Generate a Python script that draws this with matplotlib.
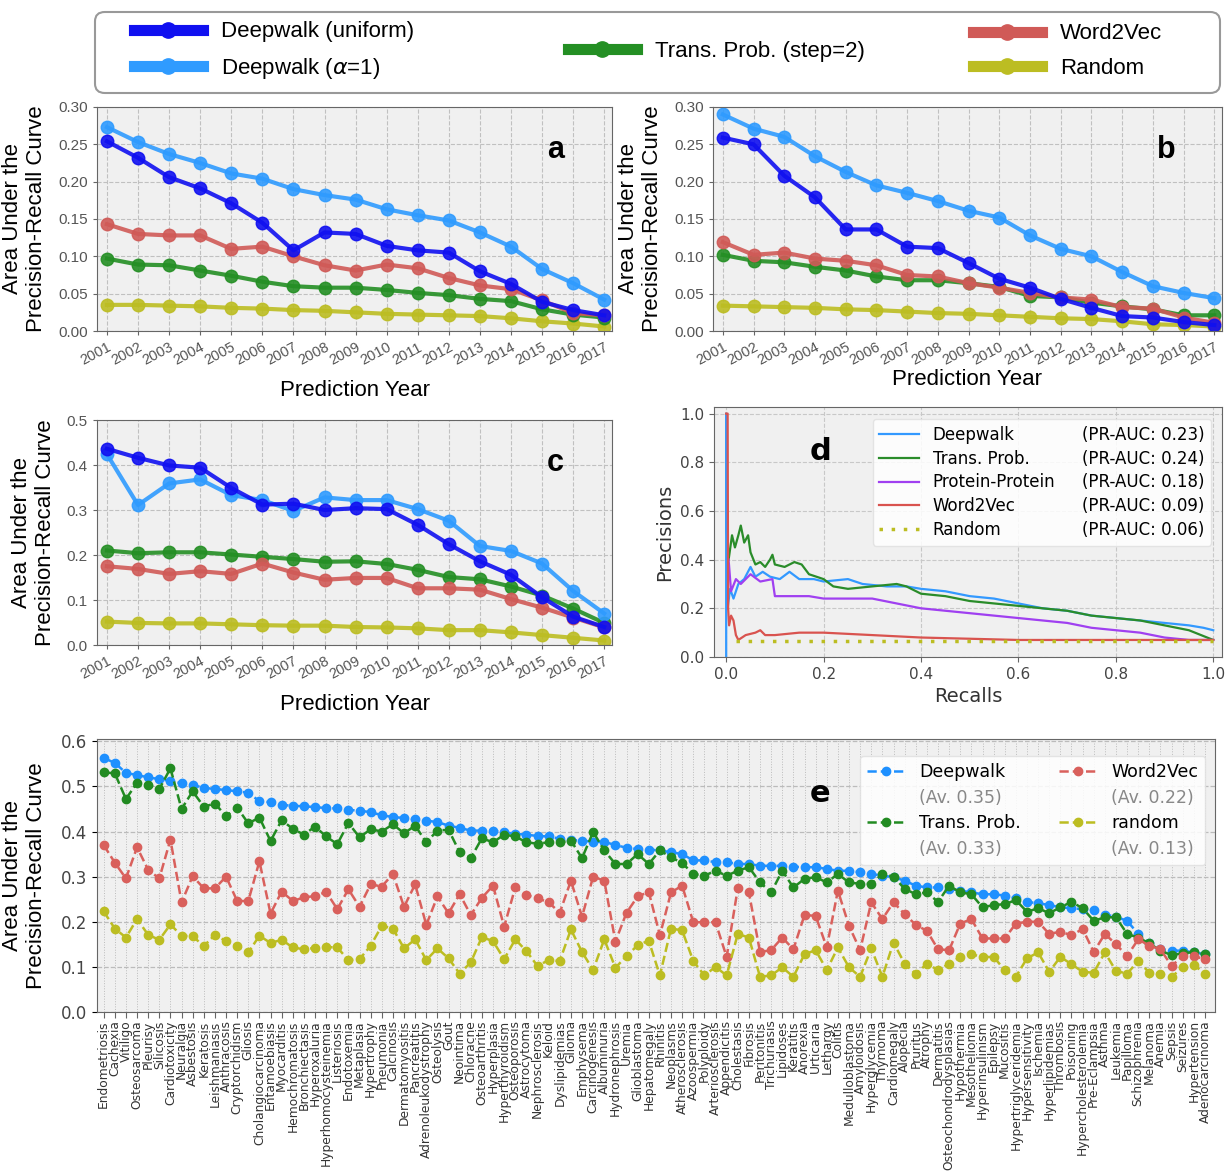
import numpy as np
import matplotlib
matplotlib.use('Agg')
import matplotlib.pyplot as plt
from matplotlib.lines import Line2D
from matplotlib.patches import FancyBboxPatch

plt.rcParams['font.family'] = ['DejaVu Sans']
ARIAL = 'Liberation Sans'

# ---------------- data ----------------
years = list(range(2001, 2018))

# panel a
a_dw_uniform = [0.254, 0.232, 0.206, 0.191, 0.171, 0.145, 0.108, 0.132, 0.130, 0.114, 0.108, 0.105, 0.080, 0.063, 0.039, 0.028, 0.021]
a_dw_alpha1 = [0.273, 0.253, 0.237, 0.225, 0.211, 0.204, 0.190, 0.182, 0.176, 0.163, 0.155, 0.148, 0.132, 0.113, 0.083, 0.064, 0.042]
a_trans = [0.097, 0.089, 0.088, 0.081, 0.074, 0.066, 0.060, 0.058, 0.058, 0.055, 0.051, 0.048, 0.043, 0.040, 0.029, 0.022, 0.018]
a_w2v = [0.143, 0.130, 0.128, 0.128, 0.110, 0.113, 0.100, 0.088, 0.081, 0.089, 0.084, 0.071, 0.061, 0.056, 0.041, 0.024, 0.021]
a_random = [0.035, 0.035, 0.034, 0.033, 0.031, 0.030, 0.028, 0.027, 0.025, 0.023, 0.022, 0.021, 0.020, 0.017, 0.013, 0.010, 0.006]

# panel b
b_dw_uniform = [0.259, 0.250, 0.208, 0.179, 0.136, 0.136, 0.113, 0.111, 0.091, 0.070, 0.058, 0.043, 0.031, 0.020, 0.018, 0.012, 0.008]
b_dw_alpha1 = [0.290, 0.271, 0.260, 0.234, 0.213, 0.195, 0.185, 0.174, 0.161, 0.152, 0.128, 0.110, 0.100, 0.079, 0.060, 0.051, 0.044]
b_trans = [0.102, 0.094, 0.092, 0.086, 0.081, 0.073, 0.068, 0.068, 0.064, 0.059, 0.047, 0.045, 0.038, 0.033, 0.029, 0.021, 0.021]
b_w2v = [0.119, 0.102, 0.105, 0.097, 0.094, 0.088, 0.075, 0.073, 0.064, 0.058, 0.051, 0.045, 0.042, 0.032, 0.030, 0.018, 0.011]
b_random = [0.034, 0.033, 0.032, 0.031, 0.029, 0.028, 0.026, 0.024, 0.023, 0.021, 0.019, 0.017, 0.016, 0.013, 0.009, 0.008, 0.006]

# panel c
c_dw_uniform = [0.436, 0.416, 0.399, 0.394, 0.349, 0.312, 0.314, 0.300, 0.304, 0.302, 0.267, 0.224, 0.186, 0.156, 0.106, 0.063, 0.040]
c_dw_alpha1 = [0.424, 0.311, 0.359, 0.368, 0.333, 0.322, 0.298, 0.328, 0.322, 0.322, 0.302, 0.276, 0.220, 0.209, 0.181, 0.120, 0.070]
c_trans = [0.210, 0.204, 0.206, 0.206, 0.201, 0.196, 0.191, 0.185, 0.186, 0.180, 0.167, 0.151, 0.146, 0.130, 0.110, 0.081, 0.049]
c_w2v = [0.175, 0.169, 0.158, 0.164, 0.158, 0.181, 0.161, 0.145, 0.149, 0.149, 0.126, 0.126, 0.123, 0.102, 0.083, 0.061, 0.039]
c_random = [0.052, 0.049, 0.048, 0.048, 0.046, 0.044, 0.043, 0.043, 0.040, 0.039, 0.037, 0.033, 0.033, 0.028, 0.022, 0.016, 0.010]

# panel d (precision-recall curves)
d_dw_rec = [0.0, 0.0, 0.003, 0.008, 0.015, 0.025, 0.037, 0.05, 0.06, 0.075, 0.09, 0.11, 0.13, 0.15, 0.18, 0.2, 0.25, 0.28,
            0.33, 0.37, 0.4, 0.45, 0.5, 0.55, 0.6, 0.65, 0.7, 0.75, 0.8, 0.85, 0.9, 0.95, 0.98, 1.0]
d_dw_prec = [0.0, 1.0, 0.2, 0.28, 0.24, 0.30, 0.32, 0.37, 0.33, 0.35, 0.33, 0.32, 0.35, 0.32, 0.32, 0.31, 0.32, 0.30,
             0.29, 0.29, 0.28, 0.27, 0.25, 0.24, 0.22, 0.20, 0.19, 0.17, 0.16, 0.15, 0.14, 0.13, 0.12, 0.11]
d_tp_rec = [0.005, 0.012, 0.018, 0.025, 0.03, 0.037, 0.045, 0.05, 0.06, 0.07, 0.08, 0.09, 0.095, 0.1, 0.12, 0.14, 0.155,
            0.17, 0.2, 0.22, 0.25, 0.3, 0.35, 0.37, 0.4, 0.45, 0.5, 0.55, 0.6, 0.65, 0.7, 0.75, 0.8, 0.85, 0.9, 0.95, 1.0]
d_tp_prec = [0.40, 0.50, 0.45, 0.50, 0.54, 0.47, 0.50, 0.43, 0.38, 0.39, 0.37, 0.40, 0.42, 0.38, 0.37, 0.39, 0.38,
             0.34, 0.32, 0.29, 0.28, 0.29, 0.30, 0.29, 0.26, 0.25, 0.23, 0.22, 0.21, 0.20, 0.19, 0.17, 0.16, 0.15, 0.13, 0.11, 0.07]
d_pp_rec = [0.005, 0.01, 0.02, 0.03, 0.05, 0.07, 0.095, 0.1, 0.13, 0.17, 0.2, 0.25, 0.3, 0.35, 0.4, 0.45, 0.5, 0.55,
            0.6, 0.65, 0.7, 0.75, 0.8, 0.85, 0.9, 0.95, 1.0]
d_pp_prec = [0.40, 0.27, 0.32, 0.30, 0.34, 0.31, 0.32, 0.25, 0.25, 0.25, 0.24, 0.24, 0.24, 0.22, 0.20, 0.19, 0.18, 0.17,
             0.16, 0.15, 0.14, 0.12, 0.11, 0.10, 0.08, 0.07, 0.07]
d_w2v_rec = [0.0, 0.003, 0.004, 0.006, 0.01, 0.015, 0.02, 0.025, 0.04, 0.06, 0.07, 0.08, 0.1, 0.15, 0.2, 0.3, 0.4, 0.5, 0.6, 0.8, 1.0]
d_w2v_prec = [1.0, 1.0, 0.20, 0.13, 0.17, 0.15, 0.09, 0.07, 0.09, 0.10, 0.11, 0.09, 0.09, 0.10, 0.10, 0.09, 0.08, 0.075, 0.07, 0.07, 0.07]
d_rand_rec = [0.02, 1.0]
d_rand_prec = [0.065, 0.065]
d_names = ['Deepwalk', 'Trans. Prob.', 'Protein-Protein', 'Word2Vec', 'Random']
d_auc = ['(PR-AUC: 0.23)', '(PR-AUC: 0.24)', '(PR-AUC: 0.18)', '(PR-AUC: 0.09)', '(PR-AUC: 0.06)']

# panel e
diseases = ['Endometriosis', 'Cachexia', 'Vitiligo', 'Osteosarcoma', 'Pleurisy', 'Silicosis', 'Cardiotoxicity',
            'Neuralgia', 'Asbestosis', 'Keratosis', 'Leishmaniasis', 'Anthracosis', 'Cryptorchidism', 'Gliosis',
            'Cholangiocarcinoma', 'Entamoebiasis', 'Myocarditis', 'Hemochromatosis', 'Bronchiectasis',
            'Hyperoxaluria', 'Hyperhomocysteinemia', 'Listeriosis', 'Endotoxemia', 'Metaplasia', 'Hypertrophy',
            'Pneumonia', 'Calcinosis', 'Dermatomyositis', 'Pancreatitis', 'Adrenoleukodystrophy', 'Osteolysis',
            'Gout', 'Neointima', 'Chloracne', 'Osteoarthritis', 'Hyperplasia', 'Hyperthyroidism', 'Osteoporosis',
            'Astrocytoma', 'Nephrosclerosis', 'Keloid', 'Dyslipidemias', 'Glioma', 'Emphysema', 'Carcinogenesis',
            'Albuminuria', 'Hydronephrosis', 'Uremia', 'Glioblastoma', 'Hepatomegaly', 'Rhinitis', 'Neoplasms',
            'Atherosclerosis', 'Azoospermia', 'Polyploidy', 'Arteriosclerosis', 'Appendicitis', 'Cholestasis',
            'Fibrosis', 'Peritonitis', 'Trichuriasis', 'Lipidoses', 'Keratitis', 'Anorexia', 'Urticaria',
            'Lethargy', 'Colitis', 'Medulloblastoma', 'Amyloidosis', 'Hyperglycemia', 'Thymoma', 'Cardiomegaly',
            'Alopecia', 'Pruritus', 'Atrophy', 'Dermatitis', 'Osteochondrodysplasias', 'Hypothermia',
            'Mesothelioma', 'Hyperinsulinism', 'Epilepsy', 'Mucositis', 'Hypertriglyceridemia', 'Hypersensitivity',
            'Ischemia', 'Hyperlipidemias', 'Thrombosis', 'Poisoning', 'Hypercholesterolemia', 'Pre-Eclampsia',
            'Asthma', 'Leukemia', 'Papilloma', 'Schizophrenia', 'Melanoma', 'Anemia', 'Sepsis', 'Seizures',
            'Hypertension', 'Adenocarcinoma']

e_deepwalk = [0.563, 0.552, 0.530, 0.525, 0.520, 0.516, 0.512, 0.507, 0.503, 0.497, 0.494, 0.492, 0.489, 0.486,
              0.467, 0.465, 0.459, 0.457, 0.456, 0.454, 0.452, 0.451, 0.448, 0.446, 0.443, 0.436, 0.432, 0.430,
              0.427, 0.424, 0.421, 0.413, 0.408, 0.402, 0.402, 0.402, 0.398, 0.395, 0.393, 0.390, 0.389, 0.384,
              0.381, 0.380, 0.377, 0.377, 0.370, 0.364, 0.361, 0.360, 0.358, 0.354, 0.350, 0.336, 0.336, 0.332,
              0.332, 0.328, 0.328, 0.324, 0.324, 0.324, 0.322, 0.321, 0.321, 0.317, 0.313, 0.313, 0.310, 0.306,
              0.302, 0.299, 0.291, 0.280, 0.276, 0.276, 0.273, 0.269, 0.265, 0.261, 0.261, 0.258, 0.252, 0.244,
              0.241, 0.237, 0.232, 0.230, 0.228, 0.226, 0.216, 0.211, 0.202, 0.173, 0.152, 0.139, 0.136, 0.136,
              0.132, 0.128]
e_trans = [0.531, 0.529, 0.472, 0.508, 0.503, 0.494, 0.540, 0.450, 0.489, 0.455, 0.462, 0.434, 0.453, 0.418,
           0.431, 0.379, 0.425, 0.406, 0.393, 0.411, 0.389, 0.372, 0.419, 0.387, 0.405, 0.400, 0.416, 0.396,
           0.413, 0.376, 0.402, 0.404, 0.354, 0.341, 0.385, 0.376, 0.393, 0.389, 0.376, 0.373, 0.376, 0.376,
           0.380, 0.341, 0.399, 0.358, 0.328, 0.328, 0.350, 0.328, 0.358, 0.343, 0.330, 0.306, 0.302, 0.313,
           0.302, 0.313, 0.321, 0.287, 0.265, 0.313, 0.276, 0.295, 0.299, 0.287, 0.306, 0.287, 0.284, 0.284,
           0.306, 0.300, 0.273, 0.261, 0.265, 0.244, 0.280, 0.265, 0.261, 0.232, 0.237, 0.239, 0.248, 0.222,
           0.230, 0.219, 0.232, 0.244, 0.230, 0.202, 0.210, 0.210, 0.173, 0.165, 0.152, 0.136, 0.126, 0.130,
           0.133, 0.128]
e_w2v = [0.370, 0.331, 0.296, 0.365, 0.315, 0.296, 0.382, 0.243, 0.301, 0.274, 0.274, 0.300, 0.246, 0.246,
         0.334, 0.218, 0.267, 0.246, 0.254, 0.257, 0.266, 0.228, 0.272, 0.233, 0.283, 0.278, 0.306, 0.233,
         0.283, 0.193, 0.256, 0.219, 0.261, 0.215, 0.253, 0.280, 0.189, 0.276, 0.259, 0.252, 0.243, 0.220,
         0.291, 0.211, 0.300, 0.291, 0.156, 0.220, 0.256, 0.266, 0.170, 0.265, 0.280, 0.199, 0.199, 0.199,
         0.122, 0.274, 0.265, 0.133, 0.137, 0.165, 0.139, 0.215, 0.213, 0.143, 0.269, 0.191, 0.137, 0.243,
         0.206, 0.243, 0.217, 0.193, 0.180, 0.139, 0.137, 0.196, 0.206, 0.163, 0.163, 0.163, 0.196, 0.200,
         0.200, 0.173, 0.178, 0.170, 0.184, 0.133, 0.173, 0.150, 0.124, 0.161, 0.147, 0.139, 0.102, 0.124,
         0.124, 0.117]
e_random = [0.223, 0.185, 0.165, 0.206, 0.171, 0.160, 0.194, 0.169, 0.168, 0.146, 0.171, 0.157, 0.146, 0.132,
            0.169, 0.153, 0.160, 0.143, 0.139, 0.142, 0.144, 0.143, 0.115, 0.117, 0.147, 0.191, 0.185, 0.141,
            0.161, 0.115, 0.141, 0.119, 0.085, 0.110, 0.166, 0.157, 0.117, 0.161, 0.135, 0.102, 0.115, 0.113,
            0.183, 0.133, 0.093, 0.161, 0.098, 0.124, 0.148, 0.158, 0.081, 0.185, 0.181, 0.113, 0.081, 0.100,
            0.081, 0.173, 0.165, 0.078, 0.081, 0.099, 0.078, 0.128, 0.137, 0.093, 0.143, 0.099, 0.078, 0.141,
            0.078, 0.154, 0.107, 0.084, 0.107, 0.093, 0.107, 0.122, 0.128, 0.122, 0.122, 0.093, 0.078, 0.119,
            0.132, 0.089, 0.122, 0.106, 0.089, 0.087, 0.132, 0.091, 0.085, 0.113, 0.087, 0.084, 0.078, 0.099,
            0.104, 0.085]
e_labels = ['Deepwalk', '(Av. 0.35)', 'Trans. Prob.', '(Av. 0.33)', 'Word2Vec', '(Av. 0.22)', 'random', '(Av. 0.13)']

# ---------------- style ----------------
C_DWU = '#1010f0'
C_DW1 = '#2f9bff'
C_TP = '#248f24'
C_W2V = '#d05a57'
C_RND = '#bcbd22'
BG = '#f0f0f0'

W, H = 1225, 1171
fig = plt.figure(figsize=(W / 100, H / 100), dpi=100)


def rect(l, t, r, b):
    return [l / W, 1 - b / H, (r - l) / W, (b - t) / H]


def year_panel(ax, data, ymax, yticks, fmt, letter, xlabelpad):
    ax.set_facecolor(BG)
    for vals, col in data:
        ax.plot(years, vals, '-o', color=col, lw=3, ms=9, alpha=0.9)
    ax.set_xlim(2000.68, 2017.25)
    ax.set_ylim(0, ymax)
    ax.set_xticks(years)
    ax.set_xticklabels(years, rotation=28, ha='right', rotation_mode='anchor',
                       fontsize=10.5, color='#555', family=ARIAL)
    ax.set_yticks(yticks)
    ax.set_yticklabels([fmt % v for v in yticks], fontsize=11, color='#555', family=ARIAL)
    ax.grid(True, ls='--', color='#c0c0c0', lw=0.8)
    for s in ax.spines.values():
        s.set_color('#666')
    ax.tick_params(length=3, color='#666')
    ax.set_ylabel('Area Under the\nPrecision-Recall Curve', fontsize=16, family=ARIAL, labelpad=8)
    ax.set_xlabel('Prediction Year', fontsize=16, family=ARIAL, labelpad=xlabelpad)
    ax.text(0.89, 0.81, letter, transform=ax.transAxes, fontsize=22, fontweight='bold',
            family=ARIAL, ha='center', va='center')


ax_a = fig.add_axes(rect(97, 107, 612, 331))
year_panel(ax_a, [(a_random, C_RND), (a_trans, C_TP), (a_w2v, C_W2V), (a_dw_alpha1, C_DW1), (a_dw_uniform, C_DWU)],
           0.30, np.arange(0, 0.31, 0.05), '%.2f', 'a', 9)

ax_b = fig.add_axes(rect(713, 107, 1222, 331))
year_panel(ax_b, [(b_random, C_RND), (b_trans, C_TP), (b_w2v, C_W2V), (b_dw_alpha1, C_DW1), (b_dw_uniform, C_DWU)],
           0.30, np.arange(0, 0.31, 0.05), '%.2f', 'b', 1)

ax_c = fig.add_axes(rect(97, 420, 612, 645))
year_panel(ax_c, [(c_random, C_RND), (c_trans, C_TP), (c_w2v, C_W2V), (c_dw_alpha1, C_DW1), (c_dw_uniform, C_DWU)],
           0.5, np.arange(0, 0.51, 0.1), '%.1f', 'c', 9)

# panel d
ax_d = fig.add_axes(rect(714, 407, 1222, 657))
ax_d.set_facecolor(BG)
ld = []
ld.append(ax_d.plot(d_dw_rec, d_dw_prec, color='#3399ff', lw=1.6)[0])
ld.append(ax_d.plot(d_tp_rec, d_tp_prec, color='#2a8c2a', lw=1.6)[0])
ld.append(ax_d.plot(d_pp_rec, d_pp_prec, color='#a040f0', lw=1.6)[0])
ld.append(ax_d.plot(d_w2v_rec, d_w2v_prec, color='#d9534f', lw=1.6)[0])
ld.append(ax_d.plot(d_rand_rec, d_rand_prec, color=C_RND, lw=2.5, ls=(0, (1, 2.5)))[0])
ax_d.set_xlim(-0.025, 1.018)
ax_d.set_ylim(0, 1.027)
ax_d.set_xticks(np.arange(0, 1.01, 0.2))
ax_d.set_yticks(np.arange(0, 1.01, 0.2))
ax_d.tick_params(labelsize=11, labelcolor='#444', color='#666')
ax_d.grid(True, ls='--', color='#c8c8c8', lw=0.8)
for s in ax_d.spines.values():
    s.set_color('#666')
ax_d.set_xlabel('Recalls', fontsize=14, color='#333')
ax_d.set_ylabel('Precisions', fontsize=14, color='#333')
ax_d.text(0.21, 0.82, 'd', transform=ax_d.transAxes, fontsize=22, fontweight='bold', ha='center', va='center')
blank = Line2D([], [], alpha=0)
leg_d = ax_d.legend(ld + [blank] * 5, d_names + d_auc, ncol=2, loc='upper right',
                    bbox_to_anchor=(0.995, 0.985), fontsize=12, handlelength=2.4,
                    columnspacing=-1.6, labelspacing=0.35, framealpha=0.85, edgecolor='#e0e0e0')

# panel e
ax_e = fig.add_axes(rect(97, 739, 1215, 1012))
ax_e.set_facecolor(BG)
xe = np.arange(len(diseases))
le = []
le.append(ax_e.plot(xe, e_deepwalk, '--o', color='#1e90ff', lw=1.8, ms=6)[0])
le.append(ax_e.plot(xe, e_trans, '--o', color='#228b22', lw=1.8, ms=6)[0])
le.append(ax_e.plot(xe, e_w2v, '--o', color='#d9605c', lw=1.8, ms=6)[0])
le.append(ax_e.plot(xe, e_random, '--o', color=C_RND, lw=1.8, ms=6)[0])
ax_e.set_xlim(-0.6, 99.9)
ax_e.set_ylim(0, 0.605)
ax_e.set_xticks(xe)
ax_e.set_xticklabels(diseases, rotation=90, fontsize=8.8, color='#333')
ax_e.set_yticks(np.arange(0, 0.61, 0.1))
ax_e.set_yticklabels(['%.1f' % v for v in np.arange(0, 0.61, 0.1)], fontsize=12, color='#444')
ax_e.tick_params(axis='x', length=4, color='#666', pad=2)
ax_e.grid(True, axis='x', ls=':', color='#bbbbbb', lw=0.7)
ax_e.grid(True, axis='y', ls='--', color='#bbbbbb', lw=0.9)
for s in ax_e.spines.values():
    s.set_color('#666')
ax_e.set_ylabel('Area Under the\nPrecision-Recall Curve', fontsize=16, family=ARIAL, labelpad=10)
ax_e.text(0.647, 0.80, 'e', transform=ax_e.transAxes, fontsize=22, fontweight='bold', ha='center', va='center')
leg_e = ax_e.legend([le[0], blank, le[1], blank, le[2], blank, le[3], blank], e_labels, ncol=2,
                    loc='upper right', bbox_to_anchor=(0.999, 0.97), fontsize=12.5, handlelength=2.2,
                    columnspacing=2.2, labelspacing=0.45, framealpha=0.85, edgecolor='#e0e0e0')
for t in leg_e.get_texts():
    if t.get_text().startswith('(Av'):
        t.set_color('#888')

# top legend
def big_handle(col):
    return Line2D([], [], color=col, lw=8, marker='o', ms=11)


lp = dict(frameon=False, prop={'family': ARIAL, 'size': 16}, handlelength=3.1, handletextpad=0.8,
          labelspacing=0.6, loc='center left')
fig.legend([big_handle(C_DWU), big_handle(C_DW1)], ['Deepwalk (uniform)', r'Deepwalk ($\alpha$=1)'],
           bbox_to_anchor=(114 / W, 1 - 51 / H), **lp)
fig.legend([big_handle(C_TP)], ['Trans. Prob. (step=2)'], bbox_to_anchor=(548 / W, 1 - 51 / H), **lp)
fig.legend([big_handle(C_W2V), big_handle(C_RND)], ['Word2Vec', 'Random'],
           bbox_to_anchor=(953 / W, 1 - 51 / H), **lp)
frame = FancyBboxPatch((95 / W, 1 - 93 / H), 1125 / W, 81 / H,
                       boxstyle='round,pad=0,rounding_size=0.008', transform=fig.transFigure,
                       fill=False, edgecolor='#999999', lw=1.5)
fig.add_artist(frame)

fig.savefig('out.png', dpi=100)
